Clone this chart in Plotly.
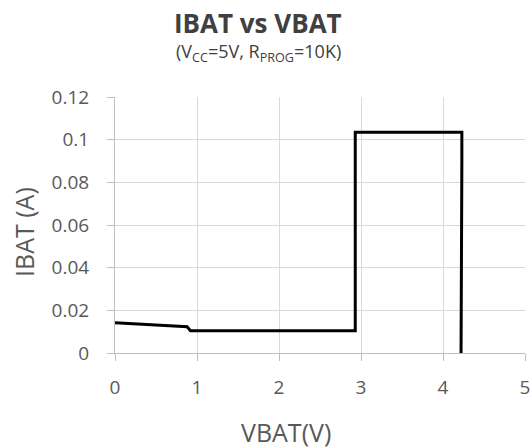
import plotly.graph_objects as go

vbat = [0, 0.88, 0.92, 2.93, 2.93, 4.23, 4.23, 4.22, 4.22]
ibat = [0.0142, 0.0123, 0.0104, 0.0104, 0.1035, 0.1035, 0.09, 0.04, 0.0]

x_ticks = [0, 1, 2, 3, 4, 5]
y_ticks = [0, 0.02, 0.04, 0.06, 0.08, 0.1, 0.12]
y_labels = ["0", "0.02", "0.04", "0.06", "0.08", "0.1", "0.12"]

font = "Open Sans, Liberation Sans, sans-serif"
fig = go.Figure()
fig.add_trace(go.Scatter(x=vbat, y=ibat, mode="lines",
                         line=dict(color="black", width=3), showlegend=False))

fig.update_layout(
    width=530, height=448,
    margin=dict(l=115, r=5, t=97, b=95),
    plot_bgcolor="white", paper_bgcolor="white",
    font=dict(family=font, color="#595959", size=19),
    annotations=[
        dict(text="<b>IBAT vs VBAT</b>", xref="paper", yref="paper",
             x=(258 - 115) / 410, xanchor="center", y=(353 - 23) / 256, yanchor="middle",
             showarrow=False, font=dict(size=26, color="#404040", family=font)),
        dict(text="(V<sub>CC</sub>=5V, R<sub>PROG</sub>=10K)", xref="paper", yref="paper",
             x=(258 - 115) / 410, xanchor="center", y=(353 - 52) / 256, yanchor="middle",
             showarrow=False, font=dict(size=18, color="#404040", family=font)),
        dict(text="VBAT(V)", xref="paper", yref="paper",
             x=(286 - 115) / 410, xanchor="center", y=(353 - 432) / 256, yanchor="middle",
             showarrow=False, font=dict(size=25, color="#595959", family=font)),
        dict(text="IBAT (A)", xref="paper", yref="paper", textangle=-90,
             x=(24 - 115) / 410, xanchor="center", y=(353 - 232) / 256, yanchor="middle",
             showarrow=False, font=dict(size=25, color="#595959", family=font)),
    ],
)
fig.update_xaxes(range=[0, 5], tickvals=x_ticks, ticktext=[str(t) for t in x_ticks],
                 showgrid=True, gridcolor="#d9d9d9", gridwidth=1,
                 showline=True, linecolor="#bfbfbf", linewidth=1,
                 ticks="outside", ticklen=7, tickcolor="#bfbfbf",
                 ticklabelstandoff=10, ticklabeloverflow="allow",
                 automargin=False, zeroline=False)
fig.update_yaxes(range=[0, 0.12], tickvals=y_ticks, ticktext=y_labels,
                 showgrid=True, gridcolor="#d9d9d9", gridwidth=1,
                 showline=True, linecolor="#bfbfbf", linewidth=1,
                 ticks="outside", ticklen=7, tickcolor="#bfbfbf",
                 ticklabelstandoff=14, automargin=False, zeroline=False)

fig.write_html("out.html", config={"displayModeBar": False},
               post_script="document.body.style.margin='0';document.body.style.overflow='hidden';")
